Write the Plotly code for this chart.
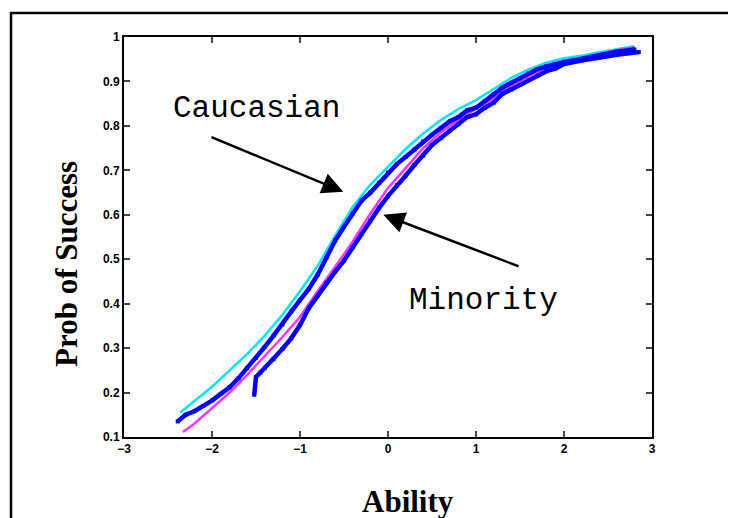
import plotly.graph_objects as go

# Caucasian model curve (cyan)
cau_model_x = [-2.36, -2.2, -2.0, -1.8, -1.6, -1.4, -1.2, -1.0, -0.8, -0.6, -0.4, -0.2, 0.0, 0.2, 0.4, 0.6, 0.8, 1.0, 1.2, 1.4, 1.6, 1.8, 2.0, 2.2, 2.4, 2.6, 2.8]
cau_model_y = [0.155, 0.18, 0.213, 0.25, 0.287, 0.328, 0.375, 0.428, 0.485, 0.553, 0.618, 0.668, 0.708, 0.748, 0.783, 0.813, 0.838, 0.858, 0.883, 0.908, 0.927, 0.942, 0.952, 0.958, 0.966, 0.973, 0.979]

# Minority model curve (magenta)
min_model_x = [-2.33, -2.2, -2.0, -1.8, -1.6, -1.4, -1.2, -1.0, -0.8, -0.6, -0.4, -0.2, 0.0, 0.2, 0.4, 0.6, 0.8, 1.0, 1.2, 1.4, 1.6, 1.8, 2.0, 2.2, 2.4, 2.6, 2.8]
min_model_y = [0.111, 0.13, 0.165, 0.2, 0.24, 0.282, 0.325, 0.37, 0.428, 0.483, 0.54, 0.603, 0.66, 0.705, 0.75, 0.785, 0.814, 0.838, 0.862, 0.89, 0.912, 0.93, 0.942, 0.952, 0.962, 0.97, 0.977]

# Caucasian empirical curve (blue)
cau_emp_x = [-2.39, -2.3, -2.2, -2.1, -2.0, -1.9, -1.8, -1.7, -1.6, -1.5, -1.4, -1.3, -1.2, -1.1, -1.0, -0.9, -0.8, -0.7, -0.6, -0.5, -0.4, -0.3, -0.2, -0.1, 0.0, 0.1, 0.2, 0.3, 0.4, 0.5, 0.6, 0.7, 0.8, 0.9, 1.0, 1.1, 1.2, 1.3, 1.4, 1.5, 1.6, 1.7, 1.8, 1.9, 2.0, 2.2, 2.4, 2.6, 2.8]
cau_emp_y = [0.135, 0.15, 0.158, 0.17, 0.182, 0.197, 0.212, 0.232, 0.255, 0.278, 0.303, 0.328, 0.353, 0.382, 0.408, 0.433, 0.465, 0.503, 0.542, 0.573, 0.603, 0.632, 0.65, 0.672, 0.695, 0.714, 0.73, 0.747, 0.765, 0.78, 0.795, 0.81, 0.82, 0.835, 0.841, 0.856, 0.871, 0.886, 0.897, 0.907, 0.918, 0.928, 0.934, 0.939, 0.944, 0.951, 0.959, 0.967, 0.972]

# Minority empirical curve (blue)
min_emp_x = [-1.52, -1.5, -1.45, -1.4, -1.3, -1.2, -1.1, -1.0, -0.9, -0.8, -0.7, -0.6, -0.5, -0.4, -0.3, -0.2, -0.1, 0.0, 0.1, 0.2, 0.3, 0.4, 0.5, 0.6, 0.7, 0.8, 0.9, 1.0, 1.1, 1.2, 1.3, 1.4, 1.5, 1.6, 1.7, 1.8, 1.9, 2.0, 2.2, 2.4, 2.6, 2.85]
min_emp_y = [0.195, 0.235, 0.245, 0.255, 0.275, 0.298, 0.322, 0.352, 0.39, 0.418, 0.447, 0.472, 0.497, 0.527, 0.557, 0.587, 0.616, 0.642, 0.667, 0.688, 0.712, 0.733, 0.757, 0.773, 0.789, 0.804, 0.82, 0.826, 0.841, 0.852, 0.872, 0.882, 0.892, 0.903, 0.913, 0.923, 0.929, 0.939, 0.947, 0.954, 0.96, 0.966]

x_ticks = [-3, -2, -1, 0, 1, 2, 3]
y_ticks = [0.1, 0.2, 0.3, 0.4, 0.5, 0.6, 0.7, 0.8, 0.9, 1.0]
y_tick_text = ["0.1", "0.2", "0.3", "0.4", "0.5", "0.6", "0.7", "0.8", "0.9", "1"]

fig = go.Figure()
fig.add_trace(go.Scatter(x=cau_model_x, y=cau_model_y, mode="lines",
                         line=dict(color="#00e5ff", width=2.5), name="Caucasian model"))
fig.add_trace(go.Scatter(x=min_model_x, y=min_model_y, mode="lines",
                         line=dict(color="#ff33ff", width=2.5), name="Minority model"))
fig.add_trace(go.Scatter(x=cau_emp_x, y=cau_emp_y, mode="lines+markers",
                         line=dict(color="#0000ff", width=4.5),
                         marker=dict(color="#0000ff", size=4, symbol="square"), name="Caucasian"))
fig.add_trace(go.Scatter(x=min_emp_x, y=min_emp_y, mode="lines+markers",
                         line=dict(color="#0000ff", width=4.5),
                         marker=dict(color="#0000ff", size=4, symbol="square"), name="Minority"))

tickfont = dict(family="Liberation Sans", size=12, color="black", weight="bold")

fig.update_xaxes(range=[-3, 3], tickvals=x_ticks, ticks="inside", ticklen=6, tickwidth=2,
                 showline=True, linecolor="black", linewidth=2, mirror="ticks",
                 showgrid=False, zeroline=False, tickfont=tickfont)
fig.update_yaxes(range=[0.1, 1.0], tickvals=y_ticks, ticktext=y_tick_text, ticks="inside",
                 ticklen=6, tickwidth=2, showline=True, linecolor="black", linewidth=2,
                 mirror="ticks", showgrid=False, zeroline=False, tickfont=tickfont)

title_font = dict(family="Liberation Serif", size=31, color="black")
# axis titles (placed off-centre as in the original)
fig.add_annotation(x=0.538, y=-0.162, xref="paper", yref="paper", text="<b>Ability</b>",
                   showarrow=False, yanchor="middle", font=title_font)
fig.add_annotation(x=-0.11, y=0.4325, xref="paper", yref="paper",
                   text="<b>Prob of Success</b>", textangle=-90,
                   showarrow=False, xanchor="center", yanchor="middle", font=title_font)

annot_font = dict(family="Liberation Mono", size=31, color="black")
fig.add_annotation(x=-0.508, y=0.652, ax=-2.023, ay=0.776, xref="x", yref="y",
                   axref="x", ayref="y", text="", showarrow=True,
                   arrowhead=2, arrowsize=1.7, arrowwidth=2.5, arrowcolor="black")
fig.add_annotation(x=-0.053, y=0.60, ax=1.5, ay=0.483, xref="x", yref="y",
                   axref="x", ayref="y", text="", showarrow=True,
                   arrowhead=2, arrowsize=1.7, arrowwidth=2.5, arrowcolor="black")
fig.add_annotation(x=-1.5, y=0.84, xref="x", yref="y", text="Caucasian",
                   showarrow=False, font=annot_font)
fig.add_annotation(x=1.08, y=0.408, xref="x", yref="y", text="Minority",
                   showarrow=False, font=annot_font)

# outer frame
fig.add_shape(type="rect", xref="paper", yref="paper",
              x0=-0.214, x1=1.1515, y0=-0.25, y1=1.06,
              line=dict(color="black", width=2.5), layer="below")

# page body adds an 8px margin, so the figure is sized to fit the window
fig.update_layout(width=728, height=510, paper_bgcolor="white", plot_bgcolor="white",
                  showlegend=False, margin=dict(l=116, r=84, t=29, b=81))

fig.write_html("out.html")
